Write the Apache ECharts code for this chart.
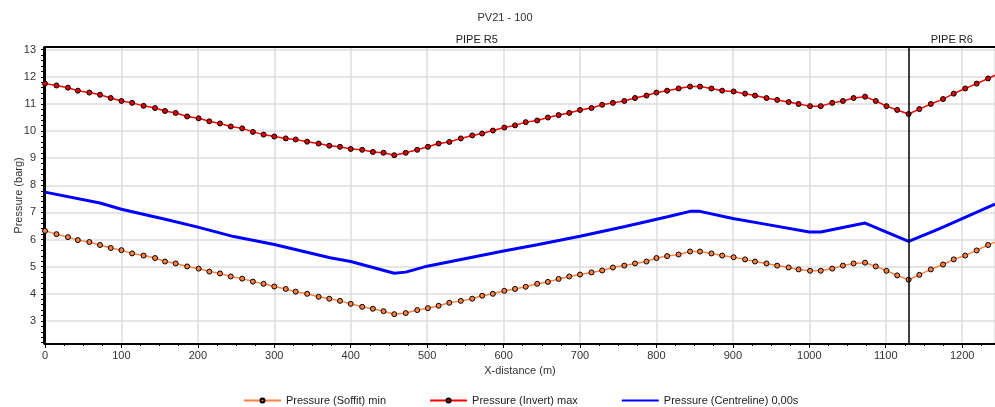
<!DOCTYPE html>
<html><head><meta charset="utf-8">
<script src="https://cdn.jsdelivr.net/npm/echarts@6/dist/echarts.min.js"></script>
<style>html,body{margin:0;padding:0;background:#fff}#c{width:995px;height:407px}</style>
</head><body><div id="c"></div>
<script>
const chartTitle = 'PV21 - 100';
const seriesNames = ['Pressure (Soffit) min', 'Pressure (Invert) max', 'Pressure (Centreline) 0,00s'];
const xDist = [0, 15, 30, 43, 58, 72, 86, 100, 114, 129, 144, 157, 171, 186, 201, 215, 229, 243, 258, 272, 286, 300, 315, 328, 343, 358, 372, 386, 400, 415, 429, 443, 457, 472, 487, 501, 515, 529, 544, 559, 572, 586, 601, 615, 629, 644, 658, 672, 686, 700, 715, 729, 743, 758, 772, 787, 800, 814, 829, 844, 857, 872, 886, 901, 916, 929, 944, 958, 973, 986, 1001, 1015, 1030, 1044, 1058, 1073, 1087, 1101, 1115, 1130, 1144, 1159, 1175, 1189, 1204, 1219, 1234, 1248];
const invertMax = [11.75, 11.68, 11.60, 11.49, 11.42, 11.34, 11.22, 11.11, 11.04, 10.93, 10.85, 10.74, 10.67, 10.54, 10.47, 10.36, 10.28, 10.17, 10.10, 9.97, 9.87, 9.80, 9.73, 9.69, 9.61, 9.54, 9.46, 9.42, 9.34, 9.31, 9.23, 9.20, 9.11, 9.20, 9.31, 9.42, 9.54, 9.60, 9.73, 9.84, 9.91, 10.02, 10.13, 10.21, 10.33, 10.39, 10.50, 10.59, 10.67, 10.78, 10.85, 10.97, 11.04, 11.11, 11.22, 11.31, 11.42, 11.49, 11.57, 11.64, 11.64, 11.57, 11.49, 11.46, 11.38, 11.31, 11.22, 11.15, 11.07, 11.00, 10.92, 10.92, 11.04, 11.11, 11.22, 11.27, 11.11, 10.92, 10.78, 10.63, 10.81, 11.00, 11.18, 11.38, 11.57, 11.75, 11.94, 12.12];
const soffitMin = [6.32, 6.20, 6.09, 5.98, 5.91, 5.80, 5.69, 5.61, 5.49, 5.41, 5.32, 5.19, 5.12, 5.01, 4.93, 4.82, 4.75, 4.64, 4.56, 4.45, 4.37, 4.27, 4.18, 4.08, 4.00, 3.89, 3.82, 3.74, 3.63, 3.52, 3.45, 3.36, 3.25, 3.29, 3.40, 3.47, 3.56, 3.67, 3.74, 3.82, 3.93, 4.00, 4.11, 4.18, 4.26, 4.37, 4.44, 4.55, 4.64, 4.71, 4.79, 4.86, 4.97, 5.04, 5.12, 5.19, 5.32, 5.39, 5.45, 5.56, 5.56, 5.49, 5.41, 5.35, 5.27, 5.19, 5.12, 5.04, 4.97, 4.90, 4.85, 4.85, 4.93, 5.04, 5.12, 5.15, 5.01, 4.85, 4.68, 4.52, 4.70, 4.90, 5.08, 5.27, 5.41, 5.60, 5.80, 5.96];
const centreX = [0, 72, 100, 160, 200, 247, 300, 373, 400, 457, 472, 500, 600, 644, 700, 759, 816, 844, 857, 900, 942, 1000, 1015, 1073, 1130, 1162, 1175, 1243];
const centreP = [7.75, 7.35, 7.12, 6.73, 6.46, 6.11, 5.82, 5.33, 5.19, 4.76, 4.80, 5.02, 5.58, 5.81, 6.12, 6.48, 6.85, 7.04, 7.04, 6.78, 6.57, 6.28, 6.28, 6.61, 5.93, 6.30, 6.46, 7.31];
const pipeNames = ['PIPE R5', 'PIPE R6'];
const pipeStart = [0, 1130];
const pipeEnd = [1130, 1252];
const yTickValues = [3, 4, 5, 6, 7, 8, 9, 10, 11, 12, 13];
const yMinorTickValues = [2.2, 2.4, 2.6, 2.8, 3.0, 3.2, 3.4, 3.6, 3.8, 4.0, 4.2, 4.4, 4.6, 4.8, 5.0, 5.2, 5.4, 5.6, 5.8, 6.0, 6.2, 6.4, 6.6, 6.8, 7.0, 7.2, 7.4, 7.6, 7.8, 8.0, 8.2, 8.4, 8.6, 8.8, 9.0, 9.2, 9.4, 9.6, 9.8, 10.0, 10.2, 10.4, 10.6, 10.8, 11.0, 11.2, 11.4, 11.6, 11.8, 12.0, 12.2, 12.4, 12.6, 12.8, 13.0];
const xMin = 0, xMax = 1243, xStep = 100;
const yMin = 2.15, yMax = 13.1;

const FONT = 'Liberation Sans';
const zip = (a, b) => a.map((v, i) => [v, b[i]]);
const plain = v => String(v);

const chart = echarts.init(document.getElementById('c'), null, {renderer: 'canvas'});
const yBase = {type: 'value', min: yMin, max: yMax, position: 'left'};
chart.setOption({
  animation: false,
  textStyle: {fontFamily: FONT},
  graphic: [{type: 'text', x: 505, y: 18, style: {text: chartTitle, textAlign: 'center', textVerticalAlign: 'middle', font: '11px ' + FONT, fill: '#333'}}],
  legend: {
    top: 395, left: 243, padding: 0, itemWidth: 37, itemHeight: 5, itemGap: 43,
    textStyle: {fontSize: 11, color: '#222', fontFamily: FONT},
    data: [seriesNames[0], seriesNames[1], {name: seriesNames[2], itemStyle: {opacity: 0}}]
  },
  grid: {left: 45, right: 0, top: 47, bottom: 63, containLabel: false, outerBoundsMode: 'none'},
  xAxis: [{
    type: 'value', min: xMin, max: xMax, interval: xStep, position: 'bottom',
    name: 'X-distance (m)', nameLocation: 'middle', nameGap: 20,
    nameTextStyle: {fontSize: 11, color: '#333', fontFamily: FONT},
    axisLine: {show: true, onZero: false, lineStyle: {color: '#000', width: 2}},
    axisTick: {show: true, length: 4, lineStyle: {color: '#000'}},
    minorTick: {show: true, splitNumber: 4, length: 2, lineStyle: {color: '#000'}},
    axisLabel: {fontSize: 11, color: '#333', margin: 6, showMaxLabel: false, formatter: plain},
    splitLine: {show: true, lineStyle: {color: '#dcdcdc', width: 1.5}}
  }, {
    type: 'value', min: xMin, max: xMax, position: 'top',
    axisLine: {show: true, onZero: false, lineStyle: {color: '#000', width: 2}},
    axisTick: {show: false}, axisLabel: {show: false}, splitLine: {show: false}
  }],
  yAxis: [Object.assign({}, yBase, {
    name: 'Pressure (barg)', nameLocation: 'middle', nameGap: 21, nameMoveOverlap: false,
    nameTextStyle: {fontSize: 11, color: '#333', fontFamily: FONT},
    axisLine: {show: true, onZero: false, lineStyle: {color: '#000', width: 2}},
    axisTick: {show: false, customValues: yTickValues},
    axisLabel: {fontSize: 11, color: '#333', margin: 9, customValues: yTickValues, formatter: plain},
    splitLine: {show: true, lineStyle: {color: '#dcdcdc', width: 1.5}}
  }), Object.assign({}, yBase, {
    offset: 2,
    axisLine: {show: true, onZero: false, lineStyle: {color: '#000', width: 1}},
    axisTick: {show: true, length: 2, customValues: yMinorTickValues, lineStyle: {color: '#000'}},
    axisLabel: {show: false}, splitLine: {show: false}
  }), Object.assign({}, yBase, {
    offset: 2,
    axisLine: {show: false},
    axisTick: {show: true, length: 4, customValues: yTickValues, lineStyle: {color: '#000'}},
    axisLabel: {show: false}, splitLine: {show: false}
  })],
  series: [{
    name: seriesNames[0], type: 'line', data: zip(xDist, soffitMin), z: 3,
    symbol: 'circle', symbolSize: 5, showAllSymbol: true,
    lineStyle: {color: '#FF8040', width: 1.5},
    itemStyle: {color: '#FF8040', borderColor: '#000', borderWidth: 1}
  }, {
    name: seriesNames[1], type: 'line', data: zip(xDist, invertMax), z: 3,
    symbol: 'circle', symbolSize: 5, showAllSymbol: true,
    lineStyle: {color: '#FF0000', width: 1.5},
    itemStyle: {color: '#E00000', borderColor: '#000', borderWidth: 1}
  }, {
    name: seriesNames[2], type: 'line', data: zip(centreX, centreP), z: 2,
    symbol: 'none',
    lineStyle: {color: '#0000FF', width: 3},
    itemStyle: {color: '#0000FF'},
    markLine: {
      silent: true, symbol: 'none', label: {show: false},
      lineStyle: {color: '#000', width: 1.5, type: 'solid'},
      data: [{xAxis: pipeStart[1]}]
    },
    markArea: {
      silent: true,
      itemStyle: {color: 'rgba(0,0,0,0)'},
      label: {show: true, position: 'top', distance: 2, fontSize: 11, color: '#222', fontFamily: FONT},
      data: pipeNames.map((n, i) => [{name: n, xAxis: pipeStart[i]}, {xAxis: pipeEnd[i]}])
    }
  }]
});
</script></body></html>
